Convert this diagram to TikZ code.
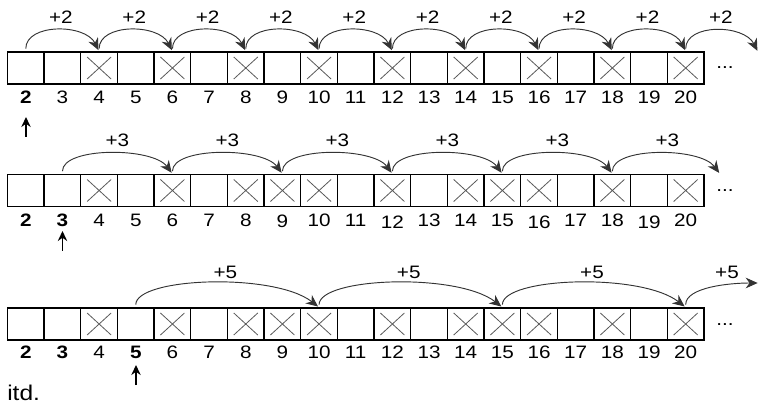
\documentclass[tikz,border=0pt]{standalone}
\usepackage{fontspec}
\setmainfont{Liberation Sans}[FakeStretch=1.15]
\usetikzlibrary{arrows.meta, positioning}
\tikzstyle{cell} = [draw=black, line width=1pt, minimum width=27.5pt, minimum height=24pt, inner sep=0pt]
\tikzstyle{num} = [font=\fontsize{13.5}{16}\selectfont, inner sep=0pt]
\tikzstyle{hop} = [->, >={Stealth[length=9pt,width=8pt]}, line width=0.7pt, draw=black!80, shorten <=2pt, shorten >=1pt]
\tikzstyle{pointer} = [->, >={Stealth[length=7.5pt,width=7pt]}, line width=1.3pt]
\tikzstyle{strike} = [draw=gray!70!black, line width=0.6pt]

\begin{document}
\begin{tikzpicture}[x=0.75pt, y=-0.75pt]
    \useasboundingbox (0,0) rectangle (761,406);

    % Row 1: step 2
    \foreach \n in {2,...,20} {
        \node[cell] (a\n) at ({25.8+36.66*(\n-2)}, 68) {};
        \node[num] (la\n) at ({25.8+36.66*(\n-2)}, 97) {\ifnum\n=2 \bfseries\fi\n};
    }
    \foreach \n in {4,6,...,20}
        \draw[strike] ([shift={(-12,-11)}]a\n.center) -- ([shift={(12,11)}]a\n.center)
                      ([shift={(-12,11)}]a\n.center) -- ([shift={(12,-11)}]a\n.center);
    \node[num] (dots1) at (725, 68) {...};
    \coordinate (a22) at (758, 52);
    \foreach \i in {2,4,...,20} {
        \pgfmathtruncatemacro\j{\i+2}
        \draw[hop] (a\i.north) .. controls +(0,-28) and +(-14,-28) .. (a\j.north);
        \node[num] (pa\i) at ({25.8+36.66*(\i-1)-1.5}, 17) {+2};
    }
    \coordinate (ta) at (26, 117);
    \coordinate (sa) at (26, 137);
    \draw[pointer] (sa) -- (ta);

    % Row 2: step 3
    \foreach \n in {2,...,20} {
        \pgfmathsetmacro\dy{(\n==12 || \n==16 || \n==19) ? 2 : ((\n==9) ? 1 : 0)}
        \node[cell] (b\n) at ({25.8+36.66*(\n-2)}, 190.5) {};
        \node[num] (lb\n) at ({25.8+36.66*(\n-2)}, 220+\dy) {\ifnum\n<4 \bfseries\fi\n};
    }
    \foreach \n in {4,6,8,9,10,12,14,15,16,18,20}
        \draw[strike] ([shift={(-12,-11)}]b\n.center) -- ([shift={(12,11)}]b\n.center)
                      ([shift={(-12,11)}]b\n.center) -- ([shift={(12,-11)}]b\n.center);
    \node[num] (dots2) at (725, 191) {...};
    \coordinate (b21) at (720, 174);
    \foreach \i in {3,6,...,18} {
        \pgfmathtruncatemacro\j{\i+3}
        \draw[hop] (b\i.north) .. controls +(0,-27) and +(-20,-27) .. (b\j.north);
        \node[num] (pb\i) at ({25.8+36.66*(\i-0.5)}, 140) {+3};
    }
    \coordinate (tb) at (62.5, 231);
    \coordinate (sb) at (62.5, 251);
    \draw[pointer] (sb) -- (tb);

    % Row 3: step 5
    \foreach \n in {2,...,20} {
        \node[cell] (c\n) at ({25.8+36.66*(\n-2)}, 324) {};
        \node[num] (lc\n) at ({25.8+36.66*(\n-2)}, 352) {\ifnum\n<4 \bfseries\fi\ifnum\n=5 \bfseries\fi\n};
    }
    \foreach \n in {4,6,8,9,10,12,14,15,16,18,20}
        \draw[strike] ([shift={(-12,-11)}]c\n.center) -- ([shift={(12,11)}]c\n.center)
                      ([shift={(-12,11)}]c\n.center) -- ([shift={(12,-11)}]c\n.center);
    \node[num] (dots3) at (725, 325) {...};
    \foreach \i in {5,10,15} {
        \pgfmathtruncatemacro\j{\i+5}
        \draw[hop] (c\i.north) .. controls +(0,-30) and +(-45,-35) .. (c\j.north);
        \node[num] (pc\i) at ({25.8+36.66*(\i+0.5)-2}, 272) {+5};
    }
    \coordinate (c25) at (759, 283);
    \draw[hop] (c20.north) .. controls +(0,-20) and +(-30,0) .. (c25);
    \node[num] (pc20) at (727, 272) {+5};
    \coordinate (tc) at (136, 365);
    \coordinate (sc) at (136, 385);
    \draw[pointer] (sc) -- (tc);

    \node[num, font=\fontsize{16}{19}\selectfont, anchor=west] (etc) at (7, 393) {itd.};
\end{tikzpicture}
\end{document}
